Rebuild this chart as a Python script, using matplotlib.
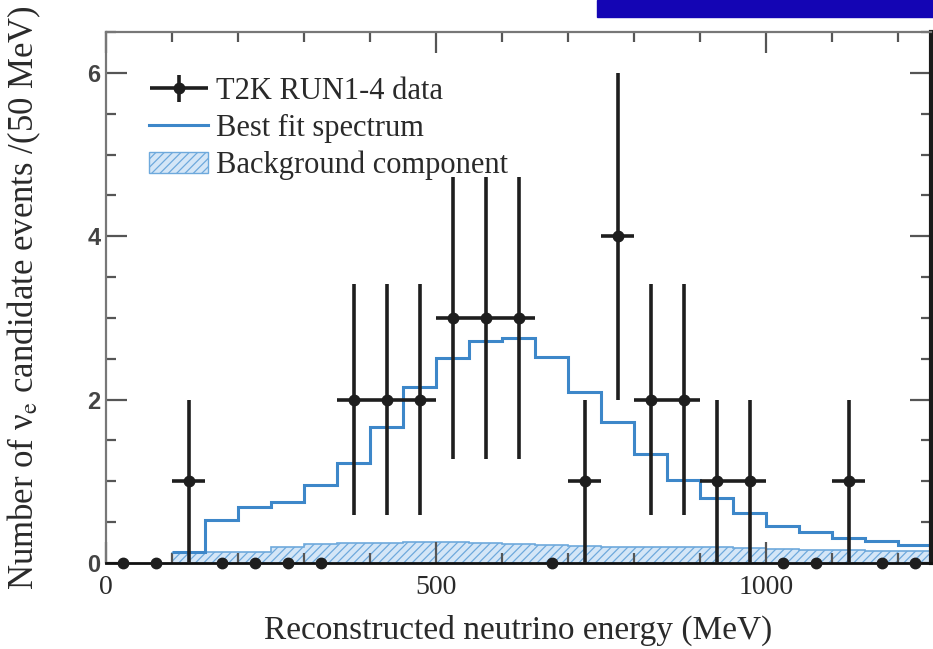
import numpy as np
import matplotlib.pyplot as plt
from matplotlib.patches import Rectangle, Patch
from matplotlib.lines import Line2D
from matplotlib.legend_handler import HandlerErrorbar
from matplotlib.container import ErrorbarContainer

plt.rcParams['font.family'] = ['Liberation Serif', 'DejaVu Serif']
plt.rcParams['mathtext.fontset'] = 'stix'
plt.rcParams['hatch.linewidth'] = 0.9

# data points: bin centres (MeV), counts and errors
centers = [25, 75, 125, 175, 225, 275, 325, 375, 425, 475, 525, 575, 625,
           675, 725, 775, 825, 875, 925, 975, 1025, 1075, 1125, 1175, 1225]
counts = [0, 0, 1, 0, 0, 0, 0, 2, 2, 2, 3, 3, 3,
          0, 1, 4, 2, 2, 1, 1, 0, 0, 1, 0, 0]
yerr = [0, 0, 1, 0, 0, 0, 0, 1.41, 1.41, 1.41, 1.73, 1.73, 1.73,
        0, 1, 2, 1.41, 1.41, 1, 1, 0, 0, 1, 0, 0]
xerr = [0, 0, 25, 0, 0, 0, 0, 25, 25, 25, 25, 25, 25,
        0, 25, 25, 25, 25, 25, 25, 0, 0, 25, 0, 0]

# prediction histograms, bin edges 100..1250 MeV in 50 MeV steps
edges = [100, 150, 200, 250, 300, 350, 400, 450, 500, 550, 600, 650, 700,
         750, 800, 850, 900, 950, 1000, 1050, 1100, 1150, 1200, 1250]
best_fit = [0.14, 0.53, 0.68, 0.75, 0.95, 1.22, 1.66, 2.16, 2.51, 2.72, 2.75, 2.52,
            2.09, 1.72, 1.34, 1.01, 0.80, 0.61, 0.45, 0.38, 0.30, 0.27, 0.22]
background = [0.12, 0.13, 0.13, 0.19, 0.23, 0.24, 0.25, 0.26, 0.26, 0.25, 0.23, 0.22,
              0.21, 0.20, 0.20, 0.19, 0.19, 0.18, 0.17, 0.16, 0.16, 0.15, 0.15]

line_blue = '#3d87c9'
fill_blue = '#d4e6f7'
hatch_blue = '#6ea9dc'
dark = '#1e1e1e'
text_col = '#2a2a2a'

fig = plt.figure(figsize=(9.33, 6.49), dpi=100)
ax = fig.add_axes([106/933, 1 - 563/649, 825/933, 531/649])

ax.stairs(background, edges, fill=True, facecolor=fill_blue, edgecolor=hatch_blue,
          hatch='////', linewidth=1.2, zorder=1)
ax.stairs(best_fit, edges, baseline=None, color=line_blue, linewidth=2.2, zorder=2)

c = np.array(counts)
x = np.array(centers)
nz = c > 0
h_data = ax.errorbar(x[nz], c[nz], yerr=np.array(yerr)[nz], xerr=np.array(xerr)[nz],
                     fmt='o', color=dark, ms=7.5, elinewidth=2.6, capsize=0, zorder=3)
ax.plot(x[~nz], c[~nz], 'o', color=dark, ms=7.5, clip_on=False, zorder=4)

ax.set_xlim(0, 1250)
ax.set_ylim(0, 6.5)
ax.set_xticks([0, 500, 1000])
ax.set_xticks(np.arange(0, 1251, 100), minor=True)
ax.set_yticks([0, 2, 4, 6])
ax.set_yticks(np.arange(0, 6.6, 0.5), minor=True)
ax.tick_params(which='both', direction='in', top=True, right=True, color='#555555', width=1.6)
ax.tick_params(which='major', length=15)
ax.tick_params(which='minor', length=7)
ax.tick_params(axis='x', labelsize=20, pad=9, labelcolor=text_col)
ax.tick_params(axis='y', labelsize=17, pad=4, labelcolor='#444444')
for t in ax.get_yticklabels():
    t.set_family(['Liberation Sans', 'DejaVu Sans'])
    t.set_fontweight('bold')

for s in ['left', 'top']:
    ax.spines[s].set_color('#777777')
    ax.spines[s].set_linewidth(1.6)
ax.spines['right'].set_color('#1a1a1a')
ax.spines['right'].set_linewidth(3)
ax.spines['bottom'].set_color('#111111')
ax.spines['bottom'].set_linewidth(2)

ax.set_xlabel('Reconstructed neutrino energy (MeV)', fontsize=24, color=text_col)
ax.set_ylabel(r'Number of ν$_\mathrm{e}$ candidate events /(50 MeV)', fontsize=25, color=text_col)
ax.xaxis.set_label_coords(0.5, -0.097)
ax.yaxis.set_label_coords(-0.076, 0.5)

h_fit = Line2D([], [], color=line_blue, linewidth=2.2)
h_bkg = Patch(facecolor=fill_blue, edgecolor=hatch_blue, hatch='////', linewidth=1)
leg = ax.legend([h_data, h_fit, h_bkg],
                ['T2K RUN1-4 data', 'Best fit spectrum', 'Background component'],
                loc='upper left', bbox_to_anchor=(0.052, 0.915), frameon=False,
                fontsize=22, handlelength=1.95, handletextpad=0.25, labelspacing=0.25,
                borderaxespad=0, borderpad=0,
                handler_map={ErrorbarContainer: HandlerErrorbar(xerr_size=0.95, yerr_size=0.45)})
for t in leg.get_texts():
    t.set_color(text_col)

fig.add_artist(Rectangle((597/933, 1 - 17/649), 336/933, 17/649,
                         transform=fig.transFigure, color='#1405b4'))

fig.savefig('out.png', dpi=100)
